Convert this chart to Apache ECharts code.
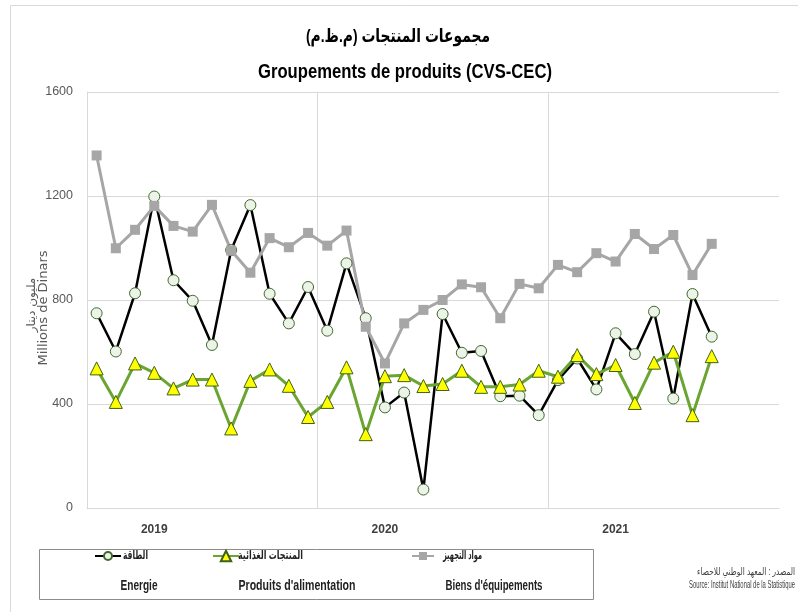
<!DOCTYPE html>
<html>
<head>
<meta charset="utf-8">
<script src="https://cdn.jsdelivr.net/npm/echarts@6/dist/echarts.min.js"></script>
<style>
  html, body { margin: 0; padding: 0; background: #fff; }
  #chart { width: 798px; height: 612px; }
</style>
</head>
<body>
<div id="chart"></div>
<script>
var mois = [
  '2019-01','2019-02','2019-03','2019-04','2019-05','2019-06','2019-07','2019-08','2019-09','2019-10','2019-11','2019-12',
  '2020-01','2020-02','2020-03','2020-04','2020-05','2020-06','2020-07','2020-08','2020-09','2020-10','2020-11','2020-12',
  '2021-01','2021-02','2021-03','2021-04','2021-05','2021-06','2021-07','2021-08','2021-09','2021-10','2021-11','2021-12'
];
var annees = ['2019', '2020', '2021'];

// الطاقة - Energie
var energie = [749, 602, 826, 1198, 876, 797, 627, 992, 1165, 824, 710, 850,
               682, 941, 730, 387, 444, 71, 746, 597, 604, 430, 432, 357,
               492, 575, 456, 672, 592, 755, 421, 823, 659];
// المنتجات الغذائية - Produits d'alimentation
var alimentation = [537, 408, 556, 520, 460, 494, 494, 306, 489, 533, 470, 350,
                    408, 541, 284, 507, 511, 469, 477, 528, 466, 466, 475, 528,
                    505, 588, 515, 550, 404, 559, 601, 357, 584];
// مواد التجهيز - Biens d'équipements
var equipements = [1356, 999, 1070, 1162, 1085, 1063, 1166, 990, 905, 1038, 1003, 1058,
                   1009, 1067, 697, 556, 710, 762, 800, 860, 849, 730, 862, 845,
                   935, 907, 980, 948, 1054, 996, 1050, 896, 1016];

var nomsAr = ['الطاقة', 'المنتجات الغذائية', 'مواد التجهيز'];
var nomsFr = ['Energie', "Produits d'alimentation", "Biens d'équipements"];

var sans = '"Liberation Sans", "DejaVu Sans", sans-serif';

// texte "condensé" : on écrase horizontalement pour imiter la police d'origine
var ctx = document.createElement('canvas').getContext('2d');
function txt(str, x, y, font, largeur, align, couleur) {
  ctx.font = font;
  var w = ctx.measureText(str).width || largeur;
  return {
    type: 'text', x: x, y: y, scaleX: largeur / w, silent: true,
    style: { text: str, font: font, textAlign: align || 'center',
             textVerticalAlign: 'middle', fill: couleur || '#000' }
  };
}

var chart = echarts.init(document.getElementById('chart'));

function legende(nom, left, w, h) {
  return {
    data: [nom], left: left, top: 556 - h / 2, padding: 0,
    itemWidth: w, itemHeight: h, itemGap: 0,
    formatter: function () { return ''; },
    selectedMode: false
  };
}

chart.setOption({
  backgroundColor: '#fff',
  animation: false,
  grid: { left: 87, right: 19, top: 92, bottom: 104 },
  legend: [
    legende(nomsAr[0], 94, 26, 10),
    legende(nomsAr[1], 212, 26, 13),
    legende(nomsAr[2], 411, 22, 10)
  ],
  xAxis: {
    type: 'category',
    data: mois,
    boundaryGap: true,
    axisLine: { lineStyle: { color: '#d9d9d9' } },
    axisTick: { show: false },
    axisLabel: {
      interval: function (i) { return i % 12 === 3; },
      formatter: function (v, i) { return annees[Math.floor(i / 12)]; },
      margin: 16,
      fontFamily: sans, fontSize: 12, fontWeight: 'bold', color: '#404040'
    },
    splitLine: {
      show: true,
      showMaxLine: false,
      interval: function (i) { return i % 12 === 0; },
      lineStyle: { color: '#d9d9d9' }
    }
  },
  yAxis: {
    type: 'value',
    min: 0, max: 1600, interval: 400,
    axisLine: { show: true, lineStyle: { color: '#d9d9d9' } },
    axisTick: { show: false },
    axisLabel: { margin: 14, fontFamily: sans, fontSize: 12.5, color: '#595959',
                 formatter: function (v) { return String(v); } },
    splitLine: { lineStyle: { color: '#d9d9d9' } }
  },
  series: [
    { name: nomsAr[0], type: 'line', data: energie,
      symbol: 'circle', symbolSize: 11, showAllSymbol: true,
      lineStyle: { color: '#000', width: 2.5 },
      itemStyle: { color: '#eef3ea', borderColor: '#3d6b2a', borderWidth: 1 } },
    { name: nomsAr[1], type: 'line', data: alimentation,
      symbol: 'triangle', symbolSize: 13, showAllSymbol: true,
      lineStyle: { color: '#6aa531', width: 3 },
      itemStyle: { color: '#ffff00', borderColor: '#3f5f1a', borderWidth: 1 } },
    { name: nomsAr[2], type: 'line', data: equipements,
      symbol: 'rect', symbolSize: 10, showAllSymbol: true,
      lineStyle: { color: '#a6a6a6', width: 3 },
      itemStyle: { color: '#a6a6a6' } }
  ],
  graphic: [
    { type: 'rect', shape: { x: 10.5, y: 5.5, width: 800, height: 620 },
      style: { fill: 'none', stroke: '#d9d9d9', lineWidth: 1 }, silent: true },
    { type: 'rect', shape: { x: 39.5, y: 549.5, width: 554, height: 50 },
      style: { fill: 'none', stroke: '#8c8c8c', lineWidth: 1 }, silent: true },

    txt('مجموعات المنتجات (م.ظ.م)', 398, 37, 'bold 19px ' + sans, 184),
    txt('Groupements de produits (CVS-CEC)', 405, 72, 'bold 20px ' + sans, 294),

    txt(nomsAr[0], 123, 556, 'bold 12px ' + sans, 25, 'left', '#222'),
    txt(nomsAr[1], 238, 556, 'bold 12px ' + sans, 65, 'left', '#222'),
    txt(nomsAr[2], 443, 556, 'bold 12px ' + sans, 39, 'left', '#222'),
    txt(nomsFr[0], 139, 586, 'bold 14px ' + sans, 37, 'center', '#222'),
    txt(nomsFr[1], 297, 586, 'bold 14px ' + sans, 117, 'center', '#222'),
    txt(nomsFr[2], 494, 586, 'bold 14px ' + sans, 97, 'center', '#222'),

    txt('المصدر : المعهد الوطني للاحصاء', 795, 572, '10px ' + sans, 98, 'right', '#404040'),
    txt('Source: Institut National de la Statistique', 795, 585, '10.5px ' + sans, 106, 'right', '#404040'),

    { type: 'text', x: 32, y: 305, rotation: Math.PI / 2, silent: true,
      style: { text: 'مليون دينار', textAlign: 'center', textVerticalAlign: 'middle',
               font: '12px "DejaVu Sans", sans-serif', fill: '#595959' } },
    { type: 'text', x: 44, y: 308, rotation: Math.PI / 2, silent: true,
      style: { text: 'Millions de Dinars', textAlign: 'center', textVerticalAlign: 'middle',
               font: '13px "DejaVu Sans", sans-serif', fill: '#595959' } }
  ]
});
</script>
</body>
</html>
